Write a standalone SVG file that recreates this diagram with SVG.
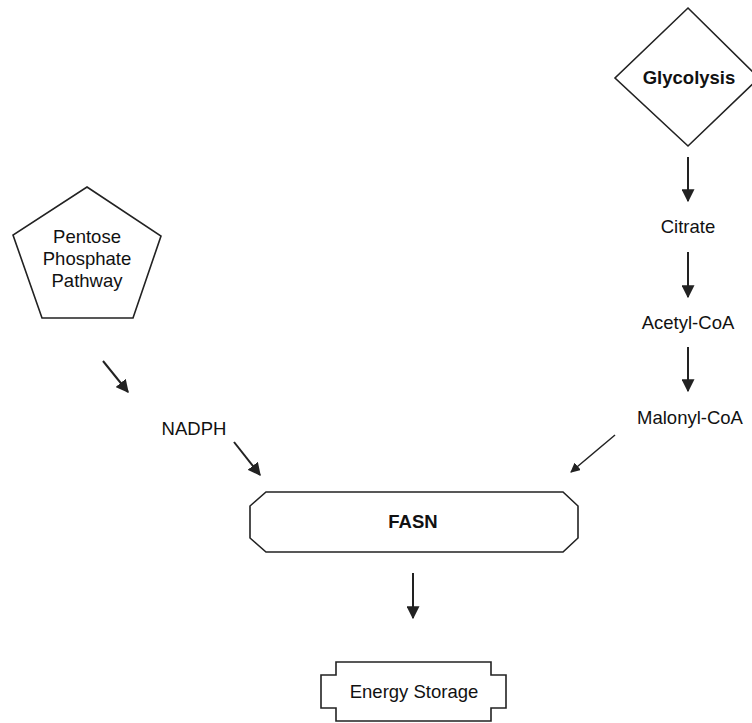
<svg xmlns="http://www.w3.org/2000/svg" width="752" height="723" viewBox="0 0 752 723">
<style>
.shape{fill:#fff;stroke:#222;stroke-width:1.6}
.t{font-family:"Liberation Sans",Arial,sans-serif;font-size:18.5px;fill:#111;text-anchor:middle}
.b{font-weight:bold}
.c{stroke:#222;stroke-width:2;fill:none;marker-end:url(#ah)}
.thin{stroke-width:1.5}
</style>
<defs>
<marker id="ah" viewBox="0 0 10 10" refX="9" refY="5" markerWidth="6.5" markerHeight="6.5" markerUnits="strokeWidth" orient="auto">
<path d="M0,0 L10,5 L0,10 z" fill="#222"/>
</marker>
</defs>
<rect width="752" height="723" fill="#fff"/>
<g id="glycolysis">
<polygon class="shape" points="688,8 759,78 688,146 615,78"/>
<text class="t b" x="689" y="84">Glycolysis</text>
</g>
<g id="ppp">
<polygon class="shape" points="87,187 161,236 133,318 42,318 13,235"/>
<text class="t" x="87" y="243">Pentose</text>
<text class="t" x="87" y="265">Phosphate</text>
<text class="t" x="87" y="287">Pathway</text>
</g>
<g id="citrate"><text class="t" x="688" y="233">Citrate</text></g>
<g id="acetyl"><text class="t" x="688" y="329">Acetyl-CoA</text></g>
<g id="malonyl"><text class="t" x="690" y="424">Malonyl-CoA</text></g>
<g id="nadph"><text class="t" x="194" y="435">NADPH</text></g>
<g id="fasn">
<polygon class="shape" points="266,492 563,492 578,506 578,538 563,552 266,552 250,538 250,506"/>
<text class="t b" x="413" y="528">FASN</text>
</g>
<g id="energy">
<polygon class="shape" points="336,662 491,662 491,675 506,675 506,708 491,708 491,721 336,721 336,708 321,708 321,675 336,675"/>
<text class="t" x="414" y="698">Energy Storage</text>
</g>
<g id="connectors">
<line class="c" x1="688" y1="157" x2="688" y2="201"/>
<line class="c" x1="688" y1="252" x2="688" y2="297"/>
<line class="c" x1="688" y1="347" x2="688" y2="391"/>
<line class="c" x1="103" y1="361" x2="128" y2="392"/>
<line class="c" x1="234" y1="442" x2="260" y2="475"/>
<line class="c thin" x1="615" y1="435" x2="571" y2="472"/>
<line class="c" x1="413" y1="573" x2="413" y2="618"/>
</g>
</svg>
